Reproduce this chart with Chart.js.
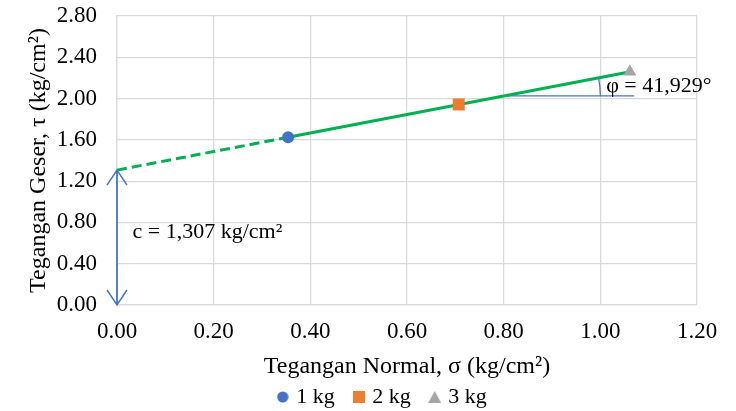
<!DOCTYPE html>
<html><head><meta charset="utf-8">
<script src="https://cdn.jsdelivr.net/npm/chart.js@4"></script>
<style>html,body{margin:0;padding:0;background:#fff}#wrap{width:736px;height:411px}</style>
</head><body><div id="wrap"><canvas id="c" width="736" height="411"></canvas></div>
<script>
// ---- data ----
const seriesNames = ['1 kg', '2 kg', '3 kg'];
const sigma = [0.354, 0.707, 1.061];       // normal stress (kg/cm2)
const tau = [1.625, 1.943, 2.260];         // shear stress (kg/cm2)
const cohesion = 1.307;                    // intercept c
const phiLabel = 41.929;                   // friction angle (deg)
const fitX = [0, 0.354, 1.065];            // fit line: dashed start, solid start, solid end
const fitY = [1.307, 1.625, 2.263];
const refX = [0.80, 1.07];                 // horizontal reference line for angle
const refY = [2.025, 2.025];
const xTicks = [0, 0.2, 0.4, 0.6, 0.8, 1.0, 1.2];
const yTicks = [0, 0.4, 0.8, 1.2, 1.6, 2.0, 2.4, 2.8];

const FONT = "'Liberation Serif', 'Times New Roman', serif";
const BLUE = '#4472C4', ORANGE = '#ED7D31', GRAY = '#A5A5A5', GREEN = '#00B050';

function icon(kind, color) {
  const c = document.createElement('canvas');
  const w = kind === 'triangle' ? 13 : 12, h = 12;
  c.width = w; c.height = h;
  const g = c.getContext('2d');
  g.fillStyle = color;
  g.beginPath();
  if (kind === 'circle') g.arc(6, 6, 5.6, 0, Math.PI * 2);
  else if (kind === 'rect') g.rect(0, 0, 12, 12);
  else { g.moveTo(6.5, 0); g.lineTo(13, 12); g.lineTo(0, 12); g.closePath(); }
  g.fill();
  return c;
}

const overlay = {
  id: 'overlay',
  afterLayout(chart) {
    const l = chart.legend;
    if (l) { l.left += 35; l.right += 35; }
  },
  afterDatasetsDraw(chart) {
    const { ctx, scales: { x, y } } = chart;
    ctx.save();
    const ax = x.getPixelForValue(0);
    const yTop = y.getPixelForValue(cohesion), yBot = y.getPixelForValue(0);
    ctx.strokeStyle = BLUE; ctx.lineWidth = 1.5;
    ctx.beginPath();
    ctx.moveTo(ax - 10, yTop + 15); ctx.lineTo(ax, yTop); ctx.lineTo(ax + 10, yTop + 15);
    ctx.moveTo(ax - 10, yBot - 15); ctx.lineTo(ax, yBot); ctx.lineTo(ax + 10, yBot - 15);
    ctx.stroke();
    const cx = x.getPixelForValue(refX[0]), cy = y.getPixelForValue(refY[0]);
    const r = x.getPixelForValue(refX[0] + 0.20) - cx;
    const p1x = x.getPixelForValue(fitX[1]), p1y = y.getPixelForValue(fitY[1]);
    const p2x = x.getPixelForValue(fitX[2]), p2y = y.getPixelForValue(fitY[2]);
    const ang = Math.atan2(p2y - p1y, p2x - p1x);
    ctx.lineWidth = 1.25;
    ctx.beginPath(); ctx.arc(cx, cy, r, ang, 0); ctx.stroke();
    ctx.fillStyle = '#000';
    ctx.font = '22px ' + FONT;
    ctx.textBaseline = 'middle';
    ctx.textAlign = 'left';
    ctx.fillText('c = 1,307 kg/cm\u00B2', x.getPixelForValue(0.032), y.getPixelForValue(0.707));
    ctx.fillText('\u03C6 = ' + phiLabel.toFixed(3).replace('.', ',') + '\u00B0', x.getPixelForValue(1.012), y.getPixelForValue(2.12));
    ctx.restore();
  }
};

const pointStyles = ['circle', 'rect', 'triangle'];
const pointColors = [BLUE, ORANGE, GRAY];
const pointRadii = [6, 8.5, 7.5];
const legendIcons = pointStyles.map((s, i) => icon(s, pointColors[i]));

const datasets = seriesNames.map((n, i) => ({
  type: 'scatter', label: n,
  data: [{ x: sigma[i], y: tau[i] }],
  pointStyle: pointStyles[i], pointRadius: pointRadii[i], pointHoverRadius: pointRadii[i],
  backgroundColor: pointColors[i], borderColor: pointColors[i], borderWidth: 0
}));
datasets.push({
  type: 'line', label: 'fit-solid',
  data: [{ x: fitX[1], y: fitY[1] }, { x: fitX[2], y: fitY[2] }],
  borderColor: GREEN, borderWidth: 3, pointRadius: 0, fill: false
});
datasets.push({
  type: 'line', label: 'fit-dash',
  data: [{ x: fitX[0], y: fitY[0] }, { x: fitX[1], y: fitY[1] }],
  borderColor: GREEN, borderWidth: 3, borderDash: [10, 5], pointRadius: 0, fill: false, clip: false
});
datasets.push({
  type: 'line', label: 'ref',
  data: [{ x: refX[0], y: refY[0] }, { x: refX[1], y: refY[1] }],
  borderColor: BLUE, borderWidth: 1.25, pointRadius: 0, fill: false
});
datasets.push({
  type: 'line', label: 'c-arrow',
  data: [{ x: 0, y: 0 }, { x: 0, y: cohesion }],
  borderColor: BLUE, borderWidth: 1.75, pointRadius: 0, fill: false, clip: false
});

new Chart(document.getElementById('c'), {
  type: 'scatter',
  data: { datasets },
  plugins: [overlay],
  options: {
    responsive: false, animation: false,
    layout: { autoPadding: false, padding: { top: 16, right: 39, left: 0, bottom: -7 } },
    plugins: {
      tooltip: { enabled: false },
      legend: {
        position: 'bottom',
        labels: {
          generateLabels: (chart) => Chart.defaults.plugins.legend.labels.generateLabels(chart)
            .filter(l => seriesNames.includes(l.text))
            .map((l, i) => Object.assign(l, { pointStyle: legendIcons[i] })),
          usePointStyle: true, boxWidth: 5, boxHeight: 12, padding: 21.5,
          color: '#000', font: { family: FONT, size: 22 }
        }
      }
    },
    scales: {
      x: {
        type: 'linear', min: 0, max: 1.2,
        afterBuildTicks: (s) => { s.ticks = xTicks.map(v => ({ value: v })); },
        afterFit: (s) => { s.height = 59.5; },
        ticks: { color: '#000', font: { family: FONT, size: 23 }, padding: 13, callback: (v) => v.toFixed(2) },
        grid: { color: '#D9D9D9', lineWidth: 1.25, drawTicks: false },
        border: { color: '#D9D9D9', width: 1.25 },
        title: { display: true, text: 'Tegangan Normal, \u03C3 (kg/cm\u00B2)', color: '#000', font: { family: FONT, size: 24 }, padding: { top: 0, bottom: -17 } }
      },
      y: {
        type: 'linear', min: 0, max: 2.8,
        afterBuildTicks: (s) => { s.ticks = yTicks.map(v => ({ value: v })); },
        afterFit: (s) => { s.width = 117; },
        ticks: { color: '#000', font: { family: FONT, size: 23 }, padding: 2, callback: (v) => v.toFixed(2) },
        grid: { color: '#D9D9D9', lineWidth: 1.25, drawTicks: true, tickLength: 18, tickColor: 'rgba(0,0,0,0)' },
        border: { color: '#D9D9D9', width: 1.25 },
        title: { display: true, text: 'Tegangan Geser, \u03C4 (kg/cm\u00B2)', color: '#000', font: { family: FONT, size: 24 }, padding: { top: 24, bottom: 0 } }
      }
    }
  }
});
</script></body></html>
